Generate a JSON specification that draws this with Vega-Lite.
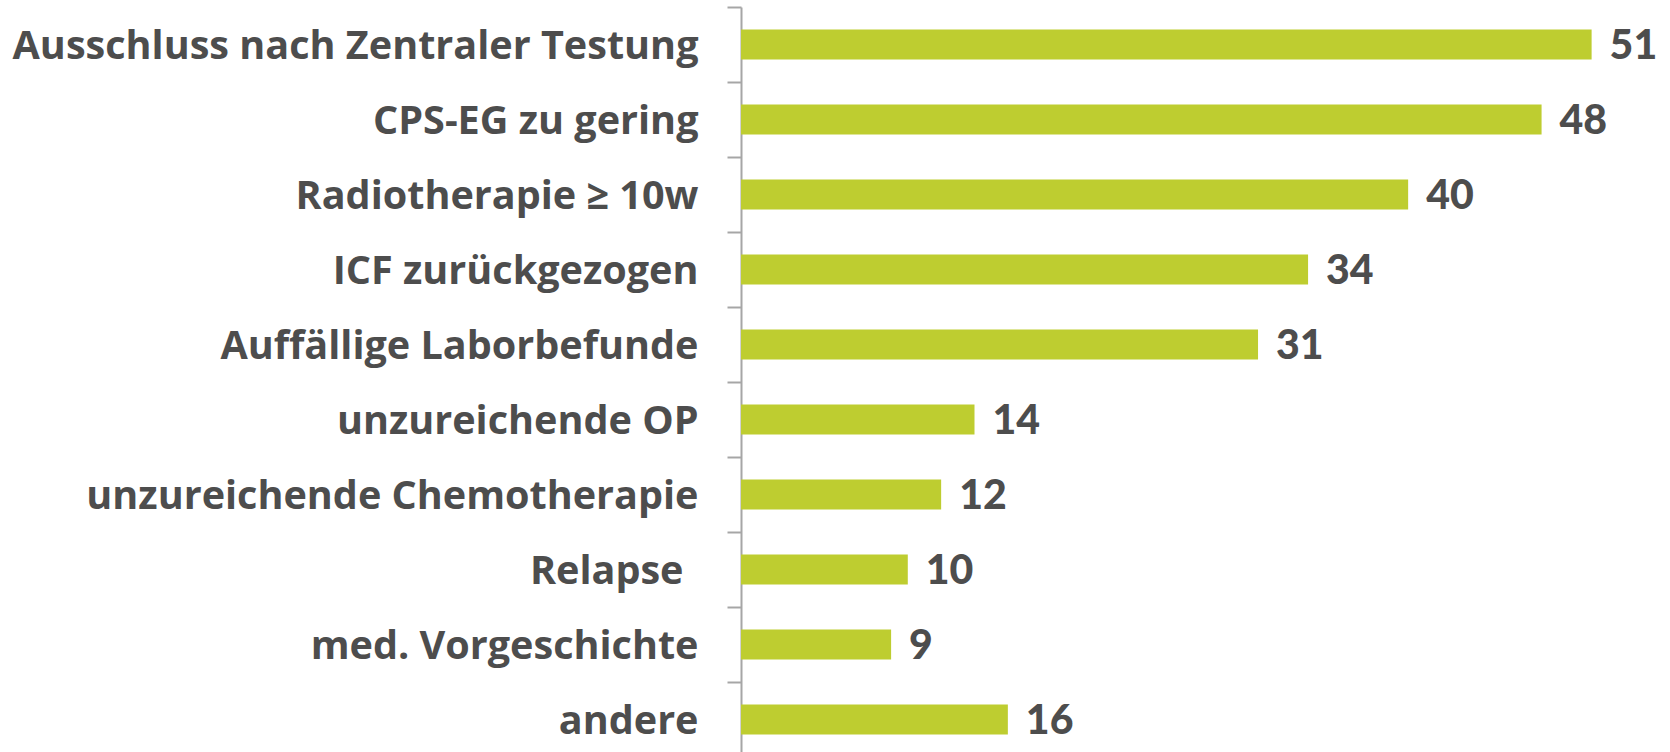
{
  "$schema": "https://vega.github.io/schema/vega-lite/v6.json",
  "width": 929,
  "height": 750,
  "autosize": {"type": "none"},
  "padding": {"left": 741, "top": 7, "right": 0, "bottom": 0},
  "background": "white",
  "config": {"view": {"stroke": null}},
  "data": {
    "values": [
      {"grund": "Ausschluss nach Zentraler Testung", "anzahl": 51},
      {"grund": "CPS-EG zu gering", "anzahl": 48},
      {"grund": "Radiotherapie ≥ 10w", "anzahl": 40},
      {"grund": "ICF zurückgezogen", "anzahl": 34},
      {"grund": "Auffällige Laborbefunde", "anzahl": 31},
      {"grund": "unzureichende OP", "anzahl": 14},
      {"grund": "unzureichende Chemotherapie", "anzahl": 12},
      {"grund": "Relapse", "anzahl": 10},
      {"grund": "med. Vorgeschichte", "anzahl": 9},
      {"grund": "andere", "anzahl": 16}
    ]
  },
  "encoding": {
    "y": {
      "field": "grund",
      "type": "nominal",
      "sort": null,
      "scale": {"paddingInner": 0, "paddingOuter": 0},
      "axis": {
        "title": null,
        "tickBand": "extent",
        "domainColor": "#a6a6a6",
        "domainWidth": 2,
        "tickColor": "#a6a6a6",
        "tickWidth": 2,
        "tickSize": 14,
        "labelPadding": {"condition": {"test": "datum.value == 'Relapse'", "value": 44}, "value": 29},
        "labelOffset": 2,
        "labelFont": "Open Sans",
        "labelFontWeight": "bold",
        "labelFontSize": 39.6,
        "labelColor": "#4d4d4d",
        "labelLimit": 0
      }
    },
    "x": {
      "field": "anzahl",
      "type": "quantitative",
      "scale": {"domain": [0, 55.7], "nice": false},
      "axis": null
    }
  },
  "layer": [
    {"mark": {"type": "bar", "color": "#becd30", "height": {"band": 0.4}}},
    {
      "mark": {
        "type": "text",
        "align": "left",
        "baseline": "middle",
        "dx": 18,
        "dy": 2,
        "font": "Lato",
        "fontWeight": 900,
        "fontSize": 41,
        "color": "#4d4d4d"
      },
      "encoding": {"text": {"field": "anzahl", "type": "quantitative"}}
    }
  ]
}
